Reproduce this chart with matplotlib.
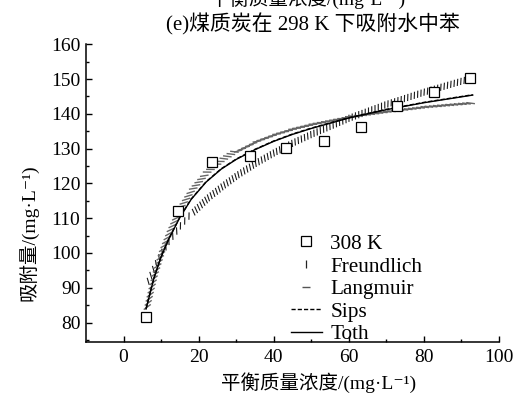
import numpy as np
import matplotlib
matplotlib.use('Agg')
import matplotlib.pyplot as plt
import matplotlib.patheffects as pe
from matplotlib.lines import Line2D

plt.rcParams['font.family'] = ['Liberation Serif', 'Noto Sans CJK SC', 'DejaVu Serif']
plt.rcParams['font.size'] = 14

# measured points (308 K)
conc_exp = [5.9, 14.4, 23.6, 33.6, 43.4, 53.3, 63.2, 72.9, 82.7, 92.4]
q_exp = [81.7, 112.0, 126.2, 128.0, 130.2, 132.2, 136.3, 142.3, 146.3, 150.4]

# fitted isotherms
conc_fit = [6, 8, 10, 12, 15, 18, 22, 26, 30, 35, 40, 45, 50, 60, 70, 80, 93]
q_freundlich = [91.0, 95.9, 99.9, 103.3, 107.6, 111.3, 115.5, 119.0, 122.2, 125.7,
                128.8, 131.6, 134.1, 138.7, 142.7, 146.2, 150.3]
q_langmuir = [84.5, 93.5, 100.5, 106.0, 113.0, 118.0, 123.0, 126.5, 129.3, 132.0,
              134.0, 135.6, 136.9, 139.0, 140.5, 141.8, 143.0]
q_sips = [84.0, 92.5, 99.0, 104.0, 110.3, 115.5, 120.5, 124.2, 127.0, 129.8,
          132.2, 134.2, 135.9, 138.9, 141.3, 143.3, 145.5]
q_toth = [83.9, 92.4, 98.9, 103.9, 110.2, 115.4, 120.4, 124.1, 126.9, 129.7,
          132.1, 134.1, 135.8, 138.8, 141.2, 143.2, 145.4]

xlabel = '平衡质量浓度/(mg·L⁻¹)'
ylabel = '吸附量/(mg·L⁻¹)'
title = '(e)煤质炭在 298 K 下吸附水中苯'

W, H = 517, 394
fig = plt.figure(figsize=(W / 100, H / 100), dpi=100)
ax = fig.add_axes([86 / W, 1 - 342 / H, (499 - 86) / W, (342 - 44.3) / H])

# Freundlich: short vertical ticks along the curve
n1 = 6
fr_style = dict(color='#1a1a1a', lw=0.8)
ax.plot(conc_fit[:n1], q_freundlich[:n1], **fr_style,
        path_effects=[pe.TickedStroke(offset=(0, 2.2), spacing=4.5, angle=-140, length=1.0)])
ax.plot(conc_fit[n1 - 1:], q_freundlich[n1 - 1:], **fr_style,
        path_effects=[pe.TickedStroke(offset=(0, 2.2), spacing=2.5, angle=-110, length=1.75)])

# Langmuir: short horizontal dashes along the curve
la_style = dict(color='#666666', lw=1.0)
n2 = 9
ax.plot(conc_fit[:n2], q_langmuir[:n2], **la_style,
        path_effects=[pe.TickedStroke(offset=(2.6, 0), spacing=3.0, angle=140, length=1.75)])
ax.plot(conc_fit[n2 - 1:], q_langmuir[n2 - 1:], **la_style,
        path_effects=[pe.TickedStroke(offset=(2.6, 0), spacing=3.0, angle=168, length=1.75)])

ax.plot(conc_fit, q_sips, color='black', lw=1.0, ls=(0, (3, 1.5)))
ax.plot(conc_fit, q_toth, color='black', lw=1.0)
ax.plot(conc_exp, q_exp, ls='none', marker='s', ms=6.5, mfc='white', mec='black', mew=0.9)

ax.set_xlim(-10, 100)
ax.set_ylim(74.4, 160)
ax.set_xticks(range(0, 101, 20))
ax.set_xticks(range(10, 100, 20), minor=True)
ax.set_yticks(range(80, 161, 10))
ax.set_yticks(range(75, 160, 10), minor=True)
ax.tick_params(which='both', direction='in', width=1.0, labelsize=14)
ax.tick_params(which='major', length=4)
ax.tick_params(which='minor', length=2.5)
ax.tick_params(axis='y', pad=4)
ax.tick_params(axis='x', pad=5)
for s in ['top', 'right']:
    ax.spines[s].set_visible(False)
for s in ['left', 'bottom']:
    ax.spines[s].set_linewidth(1.1)

handles = [
    Line2D([], [], ls='none', marker='s', ms=6.5, mfc='white', mec='black', mew=0.9),
    Line2D([], [], ls='none', marker='|', ms=6, mec='#222222', mew=0.9),
    Line2D([], [], ls='none', marker='_', ms=6, mec='#555555', mew=1.0),
    Line2D([], [], color='black', lw=1.0, ls=(0, (3, 1.5))),
    Line2D([], [], color='black', lw=1.0),
]
labels = ['308 K', 'Freundlich', 'Langmuir', 'Sips', 'Toth']
ax.legend(handles, labels, loc='upper left', bbox_to_anchor=(291 / W, 1 - 234 / H),
          bbox_transform=fig.transFigure, frameon=False, borderpad=0, borderaxespad=0,
          handlelength=1.45, handletextpad=0.4, labelspacing=0.13, fontsize=15.3)

fig.text(319 / W, 1 - 383 / H, xlabel, ha='center', va='center', fontsize=14)
fig.text(28.5 / W, 1 - 233 / H, ylabel, ha='center', va='center', rotation=90, fontsize=14)
fig.text(313 / W, 1 - 24.5 / H, title, ha='center', va='center', fontsize=15)
# label of the chart above, cut off at the top edge
fig.text(308 / W, 1 + 1.5 / H, xlabel, ha='center', va='center', fontsize=14)

fig.savefig('out.png', dpi=100)
